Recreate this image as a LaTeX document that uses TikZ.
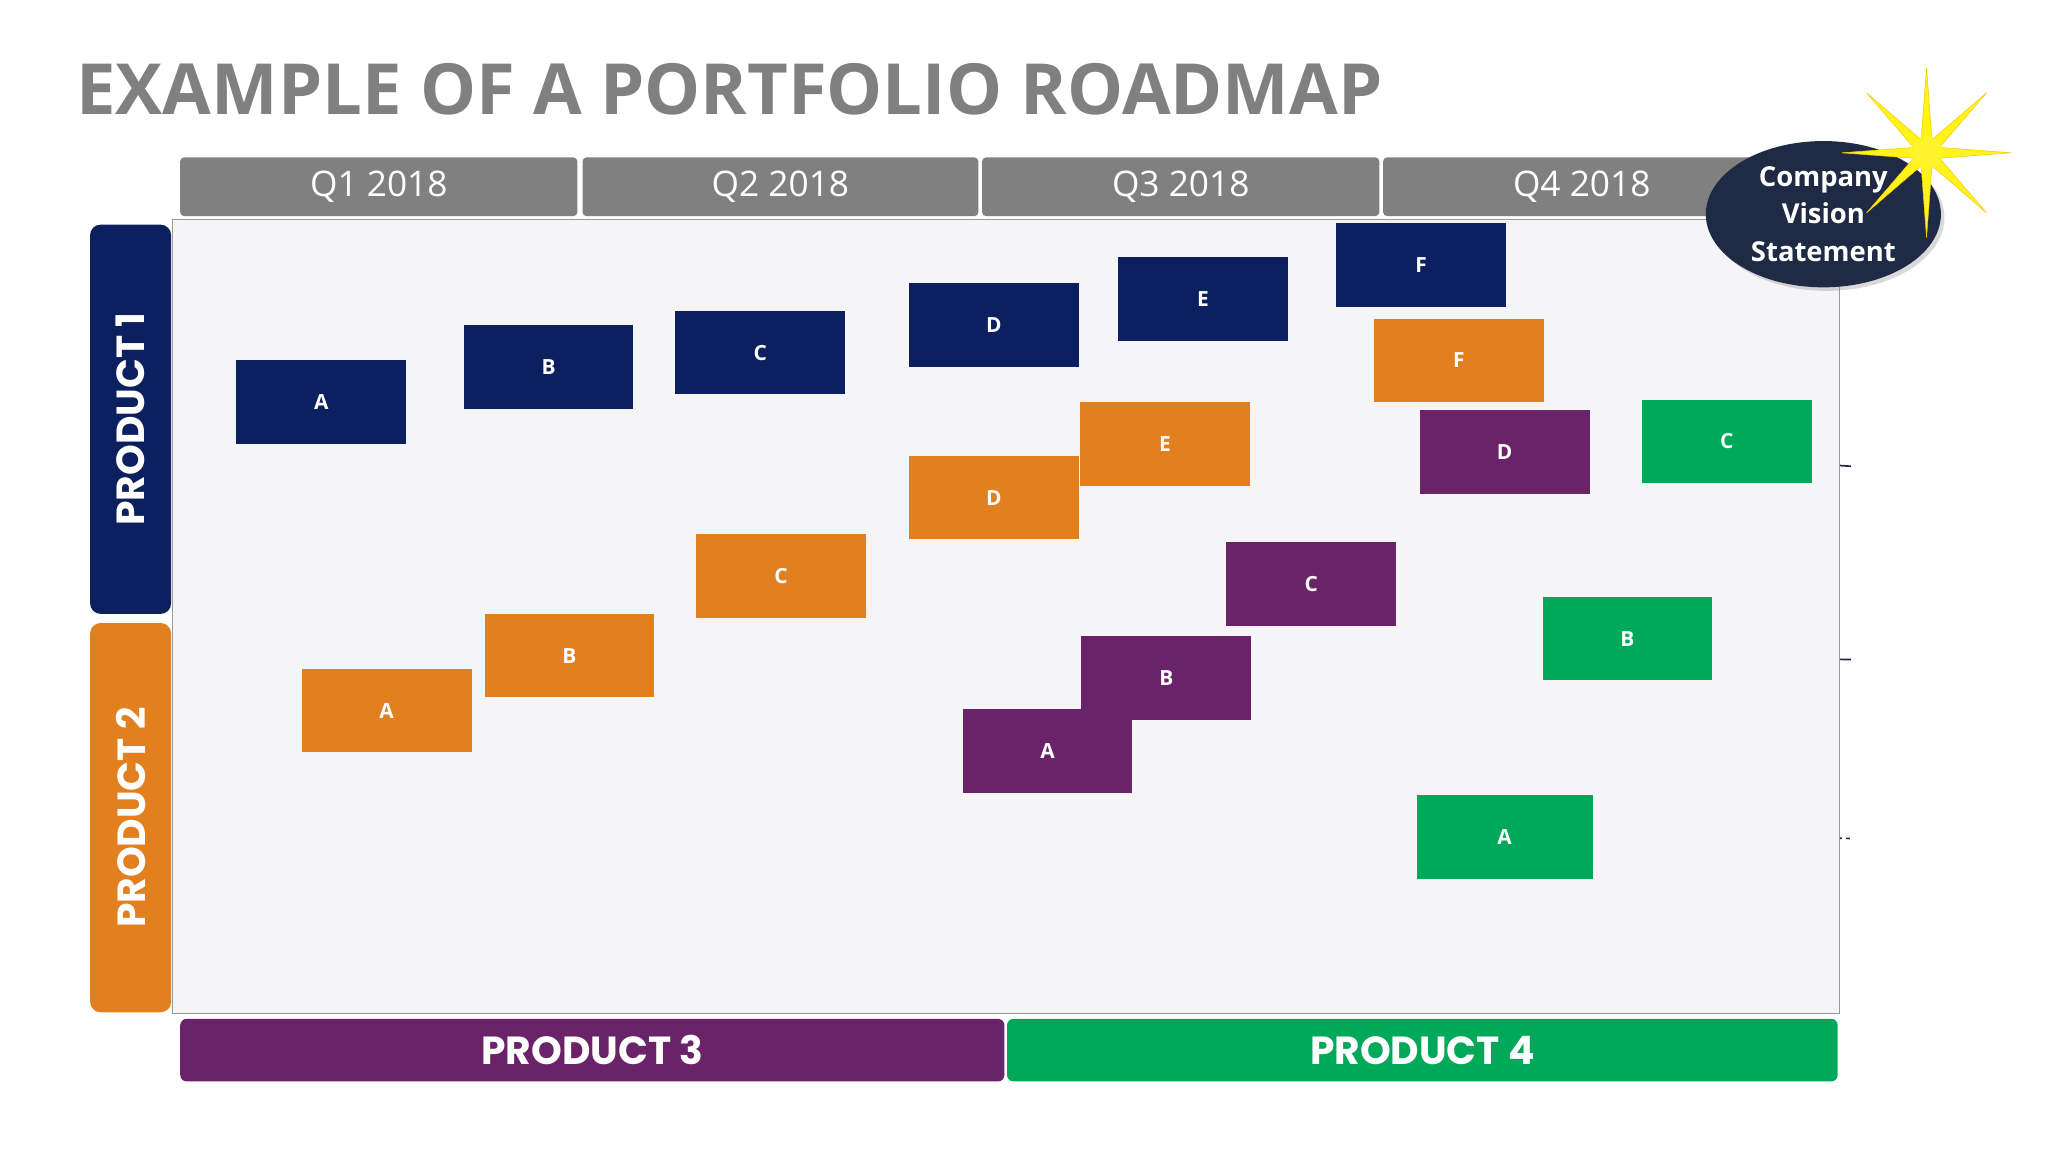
\documentclass[tikz,border=0pt]{standalone}
\usepackage{fontspec}
\setmainfont{Open Sans}
\newfontfamily\heavy{Poppins}
\usetikzlibrary{shapes.geometric,arrows.meta,shadows}
\pgfdeclarelayer{back}\pgfdeclarelayer{mid}
\pgfsetlayers{back,mid,main}
\definecolor{navy}{HTML}{0C1F5E}
\definecolor{org}{HTML}{E2801F}
\definecolor{pur}{HTML}{6A2368}
\definecolor{grn}{HTML}{00A859}
\definecolor{hdr}{HTML}{808080}
\definecolor{ell}{HTML}{1F2A44}
\tikzset{
 bx/.style={minimum width=130pt,minimum height=64pt,inner sep=0pt,text=white,font=\bfseries\fontsize{16}{18}\selectfont},
 q/.style={fill=hdr,rounded corners=3pt,minimum height=45pt,inner sep=0pt,text=white,font=\fontsize{27}{30}\selectfont},
 side/.style={rounded corners=8pt,minimum width=298pt,minimum height=62pt,rotate=90,inner sep=0pt,text=white,font=\heavy\bfseries\fontsize{30}{32}\selectfont},
 bar/.style={rounded corners=5pt,minimum height=48pt,inner sep=0pt,text=white,font=\heavy\bfseries\fontsize{30}{32}\selectfont},
 con/.style={line width=5pt},
 arr/.style={line width=5pt,-{Triangle[length=22pt,width=22pt]}},
 dsh/.style={gray,dashed,line width=1pt},
 crv/.style={ell,line width=1.3pt}
}
\begin{document}
\begin{tikzpicture}[x=1pt,y=-1pt]
\useasboundingbox (0,0) rectangle (1568,882);
\node[anchor=base west,text=hdr,font=\bfseries\fontsize{54}{60}\selectfont] (title) at (55,88) {EXAMPLE OF A PORTFOLIO ROADMAP};
\node[q,minimum width=304pt] (q1) at (290,143) {Q1 2018};
\node[q,minimum width=303pt] (q2) at (597.5,143) {Q2 2018};
\node[q,minimum width=304pt] (q3) at (904,143) {Q3 2018};
\node[q,minimum width=304pt] (q4) at (1211,143) {Q4 2018};
\node[side,fill=navy] (pr1) at (100,321) {PRODUCT 1};
\node[side,fill=org] (pr2) at (100,626) {PRODUCT 2};
\node[bar,fill=pur,minimum width=631pt] (pr3) at (453.5,804) {PRODUCT 3};
\node[bar,fill=grn,minimum width=636pt] (pr4) at (1089,804) {PRODUCT 4};
\node[draw=gray!80,fill={rgb,255:red,245;green,245;blue,247},minimum width=1276pt,minimum height=608pt,inner sep=0pt] (area) at (770,472) {};
% product 1
\node[bx,fill=navy] (a1) at (246,308) {A};
\node[bx,fill=navy] (b1) at (420,281) {B};
\node[bx,fill=navy] (c1) at (582,270) {C};
\node[bx,fill=navy] (d1) at (761,249) {D};
\node[bx,fill=navy] (e1) at (921,229) {E};
\node[bx,fill=navy] (f1) at (1088,203) {F};
% product 2
\node[bx,fill=org] (a2) at (296,544) {A};
\node[bx,fill=org] (b2) at (436,502) {B};
\node[bx,fill=org] (c2) at (598,441) {C};
\node[bx,fill=org] (d2) at (761,381) {D};
\node[bx,fill=org] (e2) at (892,340) {E};
\node[bx,fill=org] (f2) at (1117,276) {F};
% product 3
\node[bx,fill=pur] (a3) at (802,575) {A};
\node[bx,fill=pur] (b3) at (893,519) {B};
\node[bx,fill=pur] (c3) at (1004,447) {C};
\node[bx,fill=pur] (d3) at (1152,346) {D};
% product 4
\node[bx,fill=grn,minimum width=135pt] (a4) at (1152,641) {A};
\node[bx,fill=grn] (b4) at (1246,489) {B};
\node[bx,fill=grn] (c4) at (1322,338) {C};
% vision
\node[ellipse,fill=ell,minimum width=180pt,minimum height=112pt,inner sep=0pt,text=white,align=center,font=\bfseries\fontsize{21}{29}\selectfont,drop shadow={opacity=0.3}] (vis) at (1396,164) {Company\\Vision\\Statement};
\node[star,star points=8,star point ratio=6,fill=yellow!90!white,draw=yellow!60!orange,inner sep=0pt,minimum size=130pt] (star) at (1475,117) {};
\node[circle,fill=yellow!80!white,opacity=0.6,minimum size=26pt,inner sep=0pt] (glow) at (1475,117) {};
\coordinate (t1) at (1245,187);
\coordinate (t2) at (1265,224);
\coordinate (t3) at (1287,258);
\coordinate (t4) at (1345,281);
\coordinate (v1) at (1310,187);
\coordinate (v2) at (1338,200);
\coordinate (v3) at (1365,213);
\coordinate (v4) at (1320,193);
\coordinate (la) at (132,470);
\coordinate (lb) at (132,776);
\coordinate (lc) at (771,776);
\begin{pgfonlayer}{back}
\draw[dsh] (la) -- (v1);
\draw[dsh] (lb) -- (v2);
\draw[dsh] (lc) -- (v3);
\draw[crv] (748,168) .. controls (752,230) and (735,280) .. (736,340) .. controls (738,420) and (760,480) .. (900,492) .. controls (1000,500) and (1200,500) .. (1417,505);
\draw[crv] (1050,235) .. controls (1050,300) and (1060,340) .. (1120,348) .. controls (1250,355) and (1350,352) .. (1417,357);
\draw[crv,dashed,line width=1.2pt] (448,168) .. controls (450,230) and (425,320) .. (430,410) .. controls (436,520) and (500,590) .. (700,615) .. controls (900,638) and (1200,636) .. (1417,642);
\end{pgfonlayer}
\begin{pgfonlayer}{mid}
\draw[con,navy] (a1) -- (b1) -- (c1) -- (d1) -- (e1) -- (f1);
\draw[arr,navy] (f1) -- (t1);
\draw[con,org] (a2) -- (b2) -- (c2) -- (d2) -- (e2) -- (f2);
\draw[arr,org] (f2) -- (t2);
\draw[con,pur] (a3) -- (b3) -- (c3) -- (d3);
\draw[arr,pur] (d3) -- (t3);
\draw[arr,pur] (b3) -- (e2.south);
\draw[con,grn] (a4) -- (b4) -- (c4);
\draw[arr,grn] (c4) -- (t4);
\end{pgfonlayer}
\end{tikzpicture}
\end{document}
